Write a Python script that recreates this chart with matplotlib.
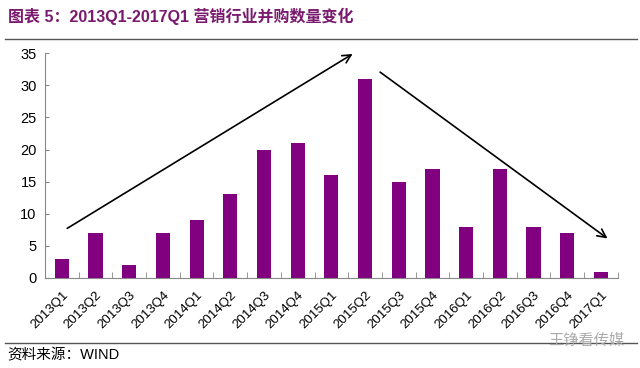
import matplotlib.pyplot as plt
import numpy as np

plt.rcParams['font.family'] = ['Liberation Sans', 'Noto Sans CJK SC', 'DejaVu Sans']

quarters = ['2013Q1', '2013Q2', '2013Q3', '2013Q4', '2014Q1', '2014Q2', '2014Q3', '2014Q4',
            '2015Q1', '2015Q2', '2015Q3', '2015Q4', '2016Q1', '2016Q2', '2016Q3', '2016Q4', '2017Q1']
deals = [3, 7, 2, 7, 9, 13, 20, 21, 16, 31, 15, 17, 8, 17, 8, 7, 1]

purple = '#800080'
fig = plt.figure(figsize=(6.4, 3.68), dpi=100)
ax = fig.add_axes([0.0703, 0.2446, 0.895, 0.611])

x = np.arange(len(quarters))
ax.bar(x, deals, width=0.42, color=purple)
ax.set_xlim(-0.5, len(quarters) - 0.5)
ax.set_ylim(0, 35)
ax.set_yticks(range(0, 36, 5))
ax.set_xticks(x)
ax.set_xticklabels(quarters, rotation=45, ha='right', rotation_mode='anchor', fontsize=9.5)
ax.set_xticks(np.arange(-0.5, len(quarters), 1), minor=True)
ax.tick_params(axis='x', which='major', length=0, pad=8)
ax.tick_params(axis='x', which='minor', direction='in', length=4, color='#888888')
ax.tick_params(axis='y', direction='in', length=3, color='#888888', labelsize=10.5, pad=6)
for s in ['top', 'right']:
    ax.spines[s].set_visible(False)
for s in ['left', 'bottom']:
    ax.spines[s].set_color('#888888')

# trend arrows
ax.annotate('', xy=(8.7, 35.1), xytext=(0.09, 7.5),
            arrowprops=dict(arrowstyle='->', color='black', lw=1.2, mutation_scale=15),
            annotation_clip=False)
ax.annotate('', xy=(16.26, 5.9), xytext=(9.38, 32.3),
            arrowprops=dict(arrowstyle='->', color='black', lw=1.2, mutation_scale=15),
            annotation_clip=False)

fig.text(0.012, 0.955, '图表 5：2013Q1-2017Q1 营销行业并购数量变化', fontsize=11.5,
         fontweight='bold', color='#7a1a6e', family=['Liberation Sans', 'Noto Sans CJK SC'],
         va='center')
fig.add_artist(plt.Line2D([0.008, 0.995], [0.895, 0.895], color='#555555', lw=1))
fig.add_artist(plt.Line2D([0.008, 0.995], [0.068, 0.068], color='#555555', lw=1))
fig.text(0.012, 0.035, '资料来源：WIND', fontsize=10.5,
         family=['Liberation Sans', 'Noto Sans CJK SC'], va='center')
fig.text(0.975, 0.075, '王铮看传媒', fontsize=11, color='#aaaaaa', ha='right', va='center',
         family=['Noto Sans CJK SC'])

fig.savefig('out.png', dpi=100)
